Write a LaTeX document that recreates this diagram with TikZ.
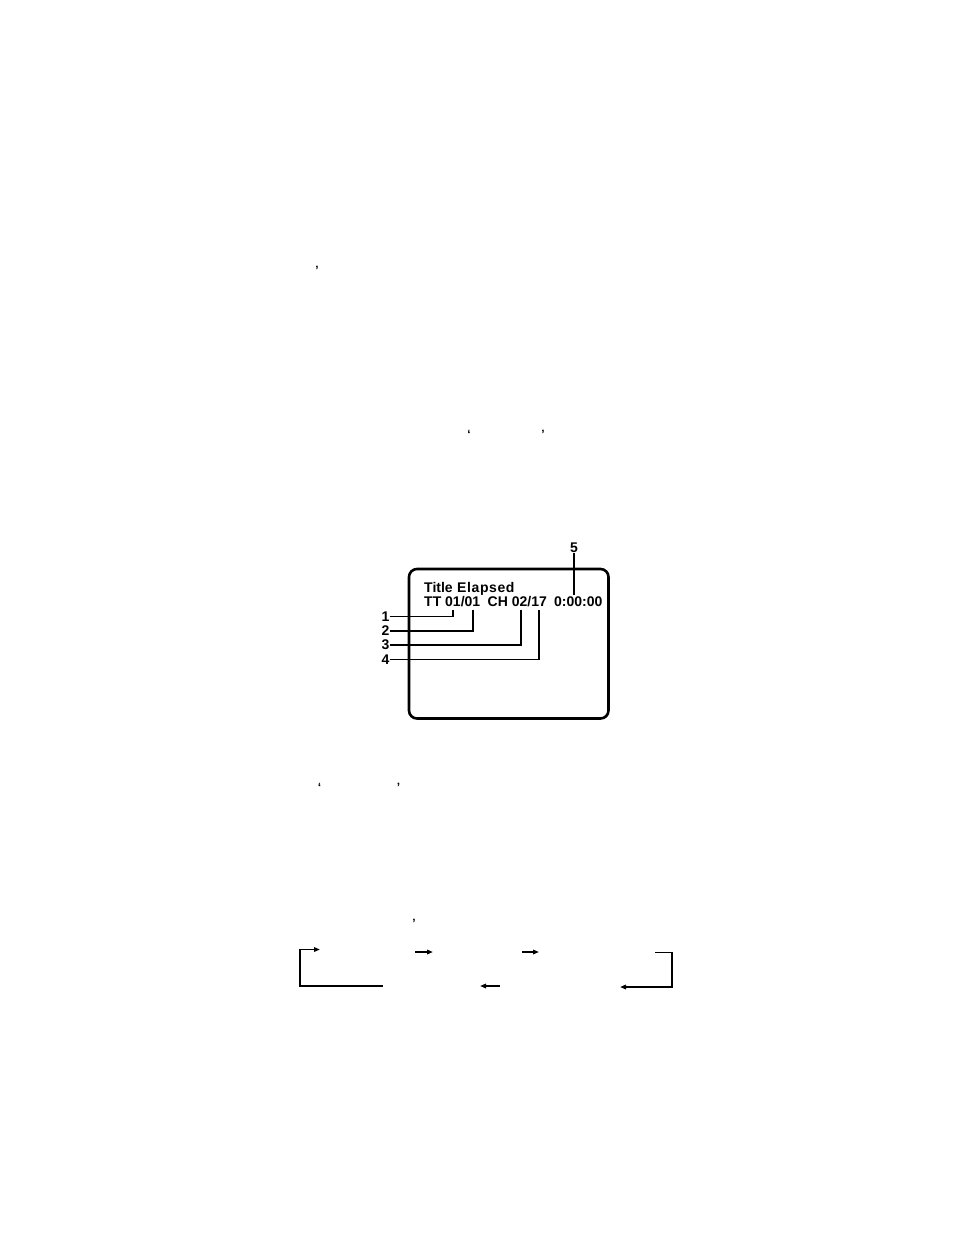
\documentclass[tikz,border=0pt]{standalone}
\usepackage{fontspec}
\setmainfont{Liberation Sans}
\usetikzlibrary{arrows.meta}
\begin{document}
\begin{tikzpicture}[x=1pt,y=-1pt,
  screentext/.style={font=\bfseries\fontsize{14}{14}\selectfont, anchor=base west, inner sep=0pt},
  numlabel/.style={font=\bfseries\fontsize{14}{14}\selectfont, inner sep=0pt},
  leader/.style={line width=1.1pt},
  quotemark/.style={font=\bfseries\fontsize{12}{12}\selectfont, inner sep=0pt},
  flow/.style={line width=1.8pt},
  tip/.style={-{Triangle[length=6pt,width=4.5pt]}}]
\useasboundingbox (0,0) rectangle (954,1235);
% stray quote marks
\node[quotemark] (q1) at (317,270) {’};
\node[quotemark] (q2) at (469,434) {‘};
\node[quotemark] (q3) at (543,434) {’};
\node[quotemark] (q4) at (319.5,787) {‘};
\node[quotemark] (q5) at (398.5,787) {’};
\node[quotemark] (q6) at (414,923) {’};
% screen
\draw[line width=2.6pt, rounded corners=8pt] (409,569) rectangle (608.5,718.5);
\node[screentext] (title) at (424,592.7) {Title\kern0.6pt\ E\kern0.6pt l\kern0.6pt a\kern0.6pt p\kern0.6pt s\kern0.6pt e\kern0.6pt d};
\node[screentext] (tt) at (424,606.7) {TT 01/01};
\node[screentext] (ch) at (487.5,606.7) {CH 02/17};
\node[screentext] (tm) at (554,606.7) {0:00:00};
% number labels
\node[numlabel] (n1) at (385.5,616.5) {1};
\node[numlabel] (n2) at (385.5,631) {2};
\node[numlabel] (n3) at (385.5,645) {3};
\node[numlabel] (n4) at (385.5,659.5) {4};
\node[numlabel] (n5) at (574,548) {5};
% leaders
\coordinate (e1) at (453,610);
\coordinate (e2) at (473,610);
\coordinate (e3) at (521,610);
\coordinate (e4) at (539,610);
\draw[leader] (n1.east) -- (n1.east -| e1) -- (e1);
\draw[leader] (n2.east) -- (n2.east -| e2) -- (e2);
\draw[leader] (n3.east) -- (n3.east -| e3) -- (e3);
\draw[leader] (n4.east) -- (n4.east -| e4) -- (e4);
\coordinate (e5) at (574,595);
\draw[leader] (n5.south) -- (e5);
% bottom flow arrows
\coordinate (a0) at (300,986);
\coordinate (a1) at (300,949.5);
\coordinate (a2) at (320,949.5);
\coordinate (a3) at (383,986);
\draw[flow,tip] (a3) -- (a0) |- (a2);
\coordinate (b0) at (415,952);
\coordinate (b1) at (433,952);
\draw[flow,tip] (b0) -- (b1);
\coordinate (c0) at (522,952);
\coordinate (c1) at (539,952);
\draw[flow,tip] (c0) -- (c1);
\coordinate (d0) at (655,952.5);
\coordinate (d1) at (672,952.5);
\coordinate (d2) at (620,987);
\draw[flow,tip] (d0) -- (d1) |- (d2);
\coordinate (f0) at (500,986);
\coordinate (f1) at (480,986);
\draw[flow,tip] (f0) -- (f1);
\end{tikzpicture}
\end{document}
